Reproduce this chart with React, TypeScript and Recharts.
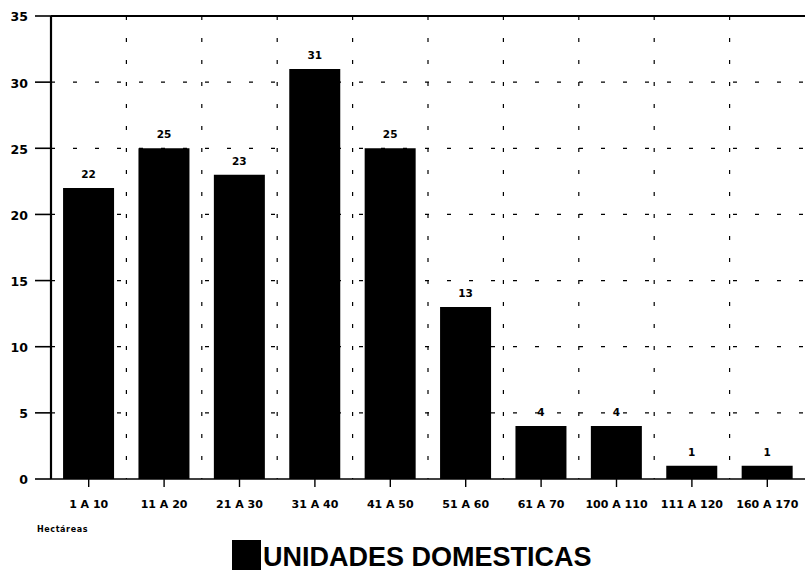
import React from 'react';
import { BarChart, Bar, XAxis, YAxis, CartesianGrid, LabelList, ReferenceLine, Legend } from 'recharts';

const categories = ['1 A 10', '11 A 20', '21 A 30', '31 A 40', '41 A 50', '51 A 60', '61 A 70', '100 A 110', '111 A 120', '160 A 170'];
const unidades = [22, 25, 23, 31, 25, 13, 4, 4, 1, 1];
const yTicks = [0, 5, 10, 15, 20, 25, 30, 35];
const seriesName = 'UNIDADES DOMESTICAS';
const xTitle = 'Hectáreas';

const data = categories.map((c, i) => ({ cat: c, value: unidades[i] }));

const SMALL = "'DejaVu Sans', sans-serif";
const BIG = "'Liberation Sans', Arial, sans-serif";

const LegendContent = () => (
  <div style={{ position: 'relative', width: 805, height: 50 }}>
    <div style={{ position: 'absolute', left: 37, top: 4, fontSize: 8, lineHeight: '8px', fontWeight: 700, fontFamily: SMALL, letterSpacing: 0.6, color: '#000', whiteSpace: 'nowrap' }}>{xTitle}</div>
    <div style={{ position: 'absolute', left: 232, top: 18, width: 29, height: 30, background: '#000' }} />
    <div style={{ position: 'absolute', left: 263, top: 22, fontSize: 27, lineHeight: '26px', fontWeight: 700, fontFamily: BIG, color: '#000', whiteSpace: 'nowrap' }}>{seriesName}</div>
  </div>
);

export default function App() {
  return (
    <div style={{ position: 'absolute', left: 0, top: 0, width: 805, height: 573, background: '#fff' }}>
      <BarChart width={805} height={573} data={data} margin={{ top: 16, right: 0, bottom: 14, left: 0 }} barCategoryGap="16%">
        <CartesianGrid
          stroke="#000"
          strokeWidth={1.2}
          strokeDasharray="4 18"
          verticalCoordinatesGenerator={(props: any) => {
            const off = props.offset;
            const arr: number[] = [];
            for (let i = 1; i < categories.length; i++) arr.push(off.left + (i * off.width) / categories.length);
            return arr;
          }}
          horizontalCoordinatesGenerator={(props: any) => {
            const off = props.offset;
            return yTicks.slice(1, -1).map(v => off.top + off.height * (1 - v / 35));
          }}
        />
        <XAxis
          dataKey="cat"
          height={30}
          interval={0}
          tickSize={8}
          tickMargin={13}
          axisLine={{ stroke: '#000', strokeWidth: 1.6 }}
          tickLine={{ stroke: '#000', strokeWidth: 1.4 }}
          tick={{ fill: '#000', fontSize: 11, fontWeight: 700, fontFamily: SMALL }}
        />
        <YAxis
          width={51}
          domain={[0, 35]}
          ticks={yTicks}
          interval={0}
          tickSize={16}
          tickMargin={7}
          axisLine={{ stroke: '#000', strokeWidth: 2.2 }}
          tickLine={{ stroke: '#000', strokeWidth: 1.6 }}
          tick={{ fill: '#000', fontSize: 12.5, fontWeight: 700, fontFamily: SMALL, dy: 1 }}
        />
        <ReferenceLine y={35} stroke="#000" strokeWidth={2.2} />
        <Legend verticalAlign="bottom" content={<LegendContent />} wrapperStyle={{ left: 0, top: 522, width: 805, height: 50 }} />
        <Bar dataKey="value" name={seriesName} fill="#000" isAnimationActive={false}>
          <LabelList dataKey="value" position="top" offset={10} style={{ fill: '#000', fontSize: 10.5, fontWeight: 700, fontFamily: SMALL }} />
        </Bar>
      </BarChart>
    </div>
  );
}
